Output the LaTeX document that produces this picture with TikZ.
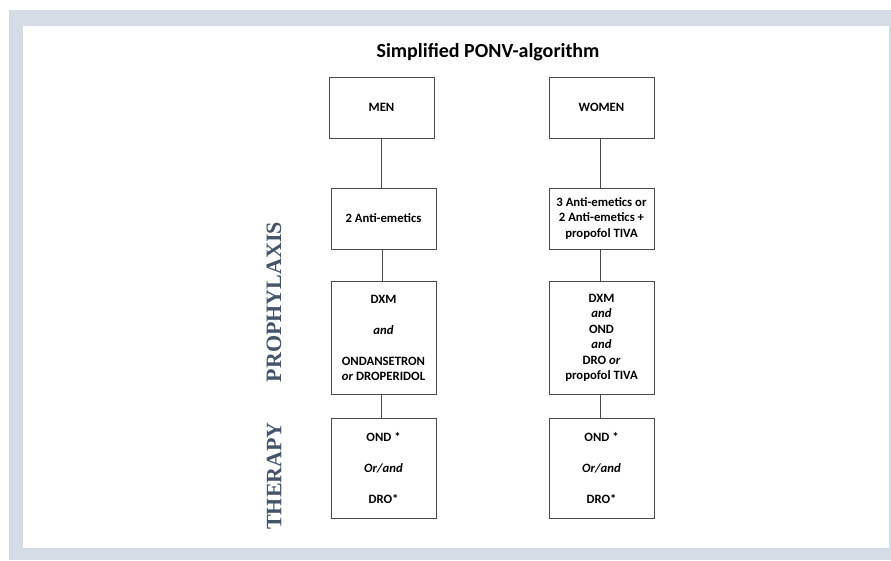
\documentclass[tikz,border=0pt]{standalone}
\usepackage{fontspec}
\setmainfont{Carlito}
\newfontfamily\labelserif{Liberation Serif}
\definecolor{framegrey}{HTML}{D5DCE6}
\definecolor{linegrey}{HTML}{4A4A4A}
\definecolor{phaseblue}{HTML}{44546A}
\begin{document}
\begin{tikzpicture}[x=1pt,y=-1pt,
  stepbox/.style={draw=linegrey,line width=1pt,fill=white,inner sep=0pt,
    align=center,font=\fontsize{12.7}{15.5}\selectfont\bfseries},
  link/.style={draw=linegrey,line width=1pt},
  phase/.style={rotate=90,font=\fontsize{22}{24}\selectfont\labelserif\bfseries,
    text=phaseblue,inner sep=0pt}]
% page, frame and panel
\useasboundingbox (0,0) rectangle (891,560);
\fill[white] (0,0) rectangle (891,560);
\fill[framegrey] (9,10) rectangle (891,560);
\fill[white] (23,26) rectangle (889,548);

\node[font=\fontsize{20}{22}\selectfont\bfseries] (title) at (488,52) {Simplified PONV-algorithm};

% men column
\node[stepbox,minimum width=105pt,minimum height=61pt] (men) at (381.5,107.5) {MEN};
\node[stepbox,minimum width=105pt,minimum height=61pt] (men2) at (383.5,218.5) {2 Anti-emetics};
\node[stepbox,minimum width=105pt,minimum height=112.5pt] (men3) at (383.5,337.75)
  {DXM\\[15.5pt]\textit{and}\\[15.5pt]ONDANSETRON\\\textit{or} DROPERIDOL};
\node[stepbox,minimum width=105pt,minimum height=99.5pt] (men4) at (383.5,468.25)
  {OND *\\[15.5pt]\textit{Or/and}\\[15.5pt]DRO*};

% women column
\node[stepbox,minimum width=105pt,minimum height=61pt] (women) at (601.5,107.5) {WOMEN};
\node[stepbox,minimum width=105pt,minimum height=61pt] (women2) at (601.5,218.5)
  {3 Anti-emetics or\\2 Anti-emetics +\\propofol TIVA};
\node[stepbox,minimum width=105pt,minimum height=112.5pt] (women3) at (601.5,337.75)
  {DXM\\\textit{and}\\OND\\\textit{and}\\DRO \textit{or}\\propofol TIVA};
\node[stepbox,minimum width=105pt,minimum height=99.5pt] (women4) at (601.5,468.25)
  {OND *\\[15.5pt]\textit{Or/and}\\[15.5pt]DRO*};

% connectors
\draw[link] (men.south) -- (men.south |- men2.north);
\draw[link] ([xshift=-1.5pt]men2.south) -- ([xshift=-1.5pt]men2.south |- men3.north);
\draw[link] ([xshift=-2pt]men3.south) -- ([xshift=-2pt]men3.south |- men4.north);
\draw[link] ([xshift=-1pt]women.south) -- ([xshift=-1pt]women.south |- women2.north);
\draw[link] ([xshift=-1pt]women2.south) -- ([xshift=-1pt]women2.south |- women3.north);
\draw[link] ([xshift=-1pt]women3.south) -- ([xshift=-1pt]women3.south |- women4.north);

% phase labels
\node[phase] (prophylaxis) at (274,302) {PROPHYLAXIS};
\node[phase] (therapy) at (274,476) {THERAPY};
\end{tikzpicture}
\end{document}
